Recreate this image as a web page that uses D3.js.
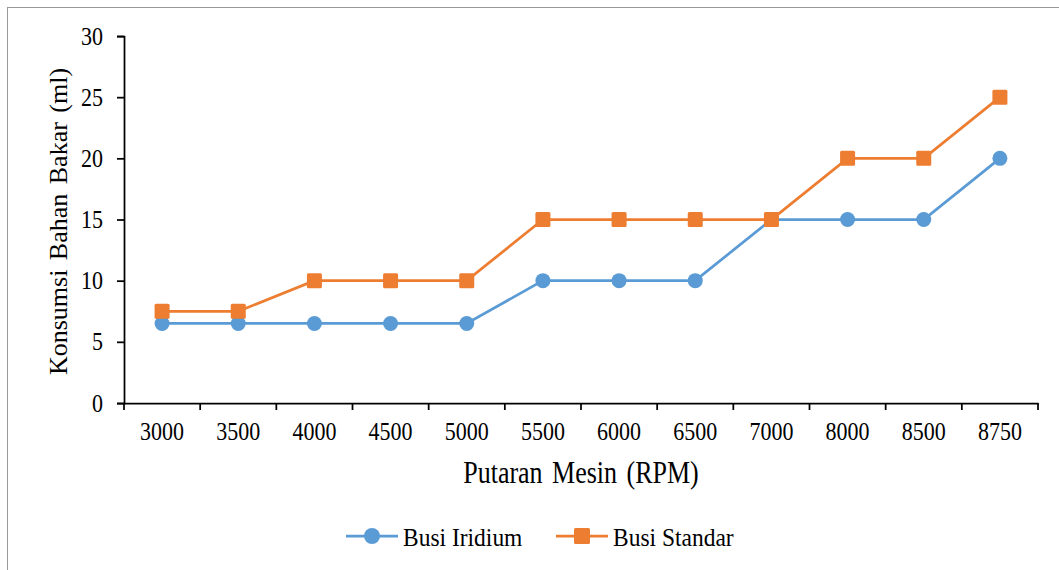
<!DOCTYPE html>
<html>
<head>
<meta charset="utf-8">
<script src="https://cdn.jsdelivr.net/npm/d3@7"></script>
<style>
  body { margin: 0; background: #fff; }
  text { font-family: "Liberation Serif", "Times New Roman", serif; fill: #000; }
</style>
</head>
<body>
<svg id="chart" width="1059" height="570"></svg>
<script>
const categories = ["3000", "3500", "4000", "4500", "5000", "5500", "6000", "6500", "7000", "8000", "8500", "8750"];
const iridium = [6.5, 6.5, 6.5, 6.5, 6.5, 10, 10, 10, 15, 15, 15, 20];
const standar = [7.5, 7.5, 10, 10, 10, 15, 15, 15, 15, 20, 20, 25];
const yTicks = [0, 5, 10, 15, 20, 25, 30];

const series = [
  { name: "Busi Iridium", values: iridium, color: "#5B9BD5", shape: "circle" },
  { name: "Busi Standar", values: standar, color: "#ED7D31", shape: "square" }
];

const svg = d3.select("#chart");
const plotL = 124, plotR = 1038, plotT = 36, plotB = 403;
const stretch = 1.18; // glyphs in the picture are a little taller than wide

// chart border
svg.append("rect")
  .attr("x", 7.5).attr("y", 7.5)
  .attr("width", 1100).attr("height", 600)
  .attr("fill", "none").attr("stroke", "#999").attr("stroke-width", 1);

const x = d3.scaleBand().domain(categories).range([plotL, plotR]);
const y = d3.scaleLinear().domain([0, 30]).range([plotB, plotT]);

// y axis
const yAxis = svg.append("g")
  .attr("transform", `translate(${plotL},0)`)
  .call(d3.axisLeft(y).tickValues(yTicks).tickSize(7).tickPadding(14));
yAxis.selectAll("text")
  .style("font-size", "22px")
  .attr("dy", null).attr("y", 0)
  .attr("transform", `translate(0,8) scale(1,${stretch})`);

// x axis (ticks at category boundaries)
const xAxis = svg.append("g")
  .attr("transform", `translate(0,${plotB})`)
  .call(d3.axisBottom(x).tickSize(0));
xAxis.selectAll("text")
  .style("font-size", "22px")
  .attr("dy", null).attr("y", 0)
  .attr("transform", `translate(0,37) scale(1,${stretch})`);
xAxis.selectAll(".bound")
  .data(d3.range(categories.length + 1))
  .join("line")
  .attr("class", "bound")
  .attr("x1", i => plotL + i * x.step()).attr("x2", i => plotL + i * x.step())
  .attr("y1", 0).attr("y2", 7);

svg.selectAll(".domain").attr("stroke", "#000").attr("stroke-width", 1.75);
svg.selectAll(".tick line").attr("stroke", "#000").attr("stroke-width", 1.75);
xAxis.selectAll(".bound").attr("stroke", "#000").attr("stroke-width", 1.75);

// axis titles
svg.append("text")
  .attr("transform", `translate(67,${(plotT + plotB) / 2 + 2}) rotate(-90)`)
  .attr("text-anchor", "middle")
  .style("font-size", "26px")
  .style("word-spacing", "3px")
  .text("Konsumsi Bahan Bakar (ml)");

svg.append("text")
  .attr("transform", `translate(${(plotL + plotR) / 2},483) scale(1,1.2)`)
  .attr("text-anchor", "middle")
  .style("font-size", "26px")
  .style("word-spacing", "3px")
  .text("Putaran Mesin (RPM)");

const cx = (d, i) => x(categories[i]) + x.bandwidth() / 2;
const line = d3.line().x((d, i) => cx(d, i)).y(d => y(d));

function drawMarker(g, shape, color, size) {
  if (shape === "circle") {
    g.append("circle").attr("r", size / 2).attr("fill", color);
  } else {
    g.append("rect").attr("x", -size / 2).attr("y", -size / 2)
      .attr("width", size).attr("height", size)
      .attr("rx", 1.5).attr("fill", color);
  }
}

series.forEach(s => {
  svg.append("path")
    .datum(s.values)
    .attr("d", line)
    .attr("fill", "none")
    .attr("stroke", s.color)
    .attr("stroke-width", 2.75);
  s.values.forEach((v, i) => {
    const g = svg.append("g").attr("transform", `translate(${cx(v, i)},${y(v)})`);
    drawMarker(g, s.shape, s.color, s.shape === "circle" ? 15 : 15);
  });
});

// legend
const legendX = [346, 556];
series.forEach((s, i) => {
  const g = svg.append("g").attr("transform", `translate(${legendX[i]},536)`);
  g.append("line").attr("x1", 0).attr("x2", 52).attr("y1", 0).attr("y2", 0)
    .attr("stroke", s.color).attr("stroke-width", 2.75);
  const m = g.append("g").attr("transform", "translate(26,0)");
  drawMarker(m, s.shape, s.color, 16);
  g.append("text")
    .attr("transform", `translate(57,10) scale(1,1.1)`)
    .style("font-size", "23.5px").text(s.name);
});
</script>
</body>
</html>
